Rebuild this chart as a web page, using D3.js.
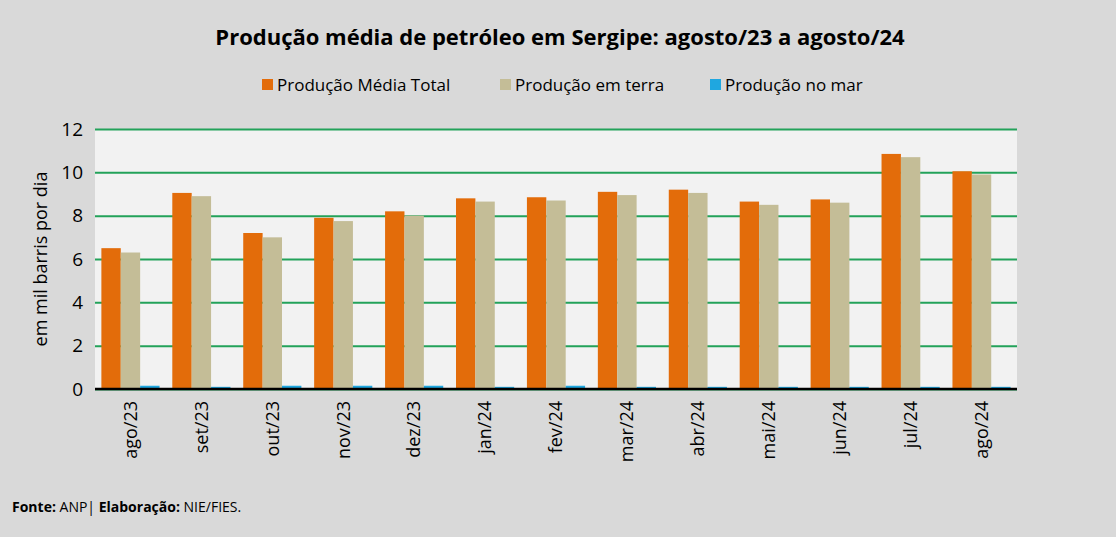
<!DOCTYPE html>
<html><head><meta charset="utf-8">
<script src="https://cdn.jsdelivr.net/npm/d3@7"></script>
<style>body{margin:0;background:#d9d9d9;font-family:"Open Sans",sans-serif;}</style>
</head><body>
<svg width="1116" height="537"></svg>
<script>
const months = ['ago/23','set/23','out/23','nov/23','dez/23','jan/24','fev/24','mar/24','abr/24','mai/24','jun/24','jul/24','ago/24'];
const seriesNames = ['Produção Média Total','Produção em terra','Produção no mar'];
const colors = ['#e36c0a','#c4bd97','#1fa7e0'];
const total = [6.5, 9.05, 7.2, 7.9, 8.2, 8.8, 8.85, 9.1, 9.2, 8.65, 8.75, 10.85, 10.05];
const terra = [6.3, 8.9, 7.0, 7.75, 8.0, 8.65, 8.7, 8.95, 9.05, 8.5, 8.6, 10.7, 9.9];
const mar = [0.15, 0.1, 0.15, 0.15, 0.15, 0.1, 0.15, 0.1, 0.1, 0.1, 0.1, 0.1, 0.1];
const yTicks = [0, 2, 4, 6, 8, 10, 12];

const svg = d3.select('svg');
const font = "'Open Sans', sans-serif";
const plotLeft = 95, plotRight = 1017, plotTop = 129, plotBottom = 389;

svg.append('rect').attr('width', 1116).attr('height', 537).attr('fill', '#d9d9d9');
svg.append('rect').attr('x', plotLeft).attr('y', plotTop).attr('width', plotRight - plotLeft).attr('height', plotBottom - plotTop).attr('fill', '#f2f2f2');

const x = d3.scaleBand().domain(months).range([plotLeft, plotRight]).paddingInner(0.18).paddingOuter(0.09);
const xs = d3.scaleBand().domain(d3.range(3)).range([0, x.bandwidth()]);
const y = d3.scaleLinear().domain([0, 12]).range([plotBottom, plotTop]);

const yAxis = svg.append('g').attr('transform', `translate(${plotLeft},0)`)
    .call(d3.axisLeft(y).tickValues(yTicks).tickSize(-(plotRight - plotLeft)).tickPadding(12));
yAxis.select('.domain').remove();
yAxis.selectAll('line').attr('stroke', '#23a25a').attr('stroke-width', 2);
yAxis.selectAll('text').attr('font-family', font).attr('font-size', 19).attr('fill', '#000');

const series = [total, terra, mar];
series.forEach((vals, i) => {
    svg.append('g').selectAll('rect').data(vals).join('rect')
        .attr('x', (d, j) => x(months[j]) + xs(i))
        .attr('width', xs.bandwidth())
        .attr('y', d => y(d))
        .attr('height', d => y(0) - y(d))
        .attr('fill', colors[i]);
});

svg.append('line').attr('x1', plotLeft).attr('x2', plotRight).attr('y1', plotBottom).attr('y2', plotBottom)
    .attr('stroke', '#000').attr('stroke-width', 2.5);

const xAxis = svg.append('g').attr('transform', `translate(0,${plotBottom})`)
    .call(d3.axisBottom(x).tickSize(0));
xAxis.select('.domain').remove();
xAxis.selectAll('text')
    .attr('font-family', font).attr('font-size', 18).attr('fill', '#000')
    .attr('transform', 'rotate(-90)').attr('text-anchor', 'end')
    .attr('x', -12).attr('y', 0).attr('dy', '0.35em');

svg.append('text').attr('transform', `translate(47,${(plotTop + plotBottom) / 2}) rotate(-90)`)
    .attr('text-anchor', 'middle').attr('font-family', font).attr('font-size', 18).text('em mil barris por dia');

svg.append('text').attr('x', 560).attr('y', 45).attr('text-anchor', 'middle')
    .attr('font-family', font).attr('font-weight', 'bold').attr('font-size', 22)
    .text('Produção média de petróleo em Sergipe: agosto/23 a agosto/24');

const legendX = [262, 500, 710];
const lg = svg.append('g').selectAll('g').data(seriesNames).join('g')
    .attr('transform', (d, i) => `translate(${legendX[i]},85)`);
lg.append('rect').attr('x', 0).attr('y', -6).attr('width', 11).attr('height', 11).attr('fill', (d, i) => colors[i]);
lg.append('text').attr('x', 15).attr('y', 0).attr('dy', '0.35em')
    .attr('font-family', font).attr('font-size', 17).text(d => d);

const foot = svg.append('text').attr('x', 12).attr('y', 512).attr('font-family', font).attr('font-size', 14);
foot.append('tspan').attr('font-weight', 'bold').text('Fonte:');
foot.append('tspan').text('  ANP| ');
foot.append('tspan').attr('font-weight', 'bold').text('Elaboração:');
foot.append('tspan').text(' NIE/FIES.');
</script>
</body></html>
